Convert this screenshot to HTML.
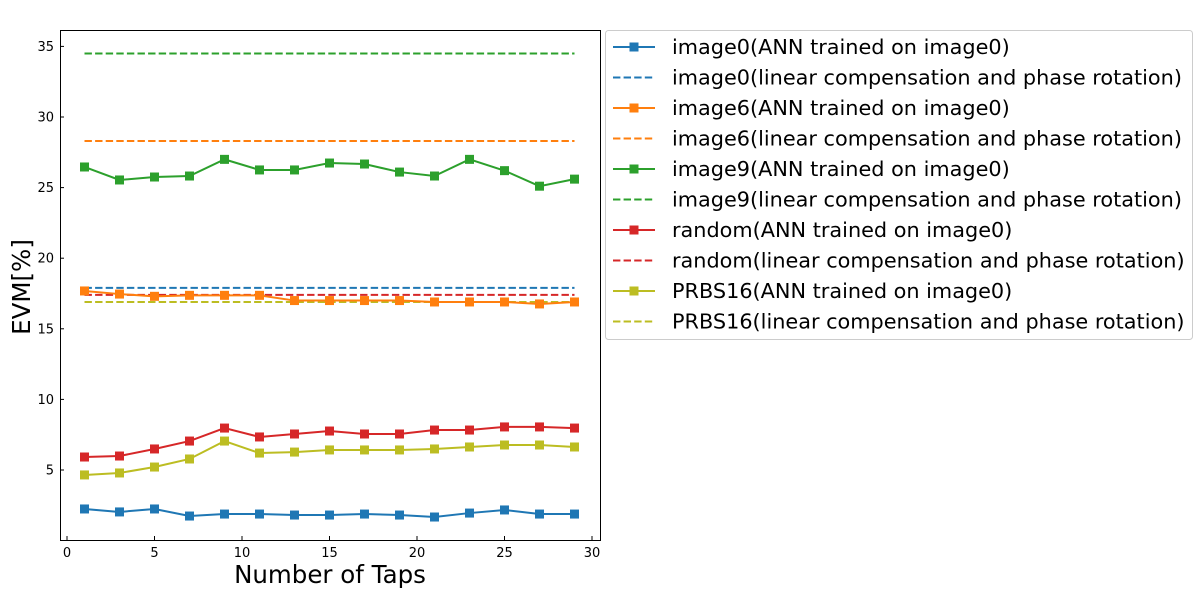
<!DOCTYPE html>
<html><head><meta charset="utf-8"><style>body{margin:0;background:#fff}svg{font-family:"DejaVu Sans","Liberation Sans",sans-serif}</style></head>
<body>
<svg id="c" width="1200" height="600"></svg>
<script>
const taps=[1,3,5,7,9,11,13,15,17,19,21,23,25,27,29];
const image0Ann=[2.24,2.03,2.24,1.74,1.88,1.88,1.81,1.81,1.88,1.81,1.67,1.95,2.17,1.88,1.88];
const image6Ann=[17.68,17.46,17.3,17.37,17.37,17.37,17.0,17.0,17.0,17.0,16.9,16.9,16.9,16.76,16.9];
const image9Ann=[26.46,25.54,25.75,25.82,27.0,26.25,26.25,26.74,26.67,26.1,25.82,27.0,26.2,25.1,25.6];
const randomAnn=[5.92,5.99,6.49,7.05,7.97,7.34,7.55,7.76,7.55,7.55,7.83,7.83,8.05,8.05,7.97];
const prbsAnn=[4.65,4.79,5.21,5.78,7.05,6.2,6.27,6.42,6.42,6.42,6.49,6.63,6.77,6.77,6.63];
const linearVals=[17.9,28.3,34.5,17.4,16.9];
const names=["image0","image6","image9","random","PRBS16"];
const colors=["#1f77b4","#ff7f0e","#2ca02c","#d62728","#bcbd22"];
const xTicks=[0,5,10,15,20,25,30];
const yTicks=[5,10,15,20,25,30,35];
const annSeries=[image0Ann,image6Ann,image9Ann,randomAnn,prbsAnn];
const NS="http://www.w3.org/2000/svg";
const svg=document.getElementById('c');
const X=v=>67+v*17.5, Y=v=>470-(v-5)*14.12;
function mk(t,a,p){const e=document.createElementNS(NS,t);for(const k in a)e.setAttribute(k,a[k]);(p||svg).appendChild(e);return e;}
const frame=mk('rect',{x:60.5,y:30.5,width:540,height:510,fill:'none',stroke:'#000','stroke-width':1});


xTicks.forEach(t=>{const g=mk('g',{});


mk('line',{x1:X(t),x2:X(t),y1:540,y2:536,stroke:'#000'},g);
const tx=mk('text',{x:X(t),y:557,'font-size':13,'text-anchor':'middle'},g);tx.textContent=t;});
yTicks.forEach(t=>{const g=mk('g',{});


mk('line',{x1:60,x2:64,y1:Y(t),y2:Y(t),stroke:'#000'},g);
const tx=mk('text',{x:54,y:Y(t)+4.5,'font-size':13,'text-anchor':'end'},g);tx.textContent=t;});
const xl=mk('text',{x:330,y:583,'font-size':24.5,'text-anchor':'middle'});xl.textContent='Number of Taps';


const yl=mk('text',{x:30,y:287,'font-size':24.5,'text-anchor':'middle',transform:'rotate(-90 30 287)'});yl.textContent='EVM[%]';


names.forEach((n,i)=>{
const d=mk('line',{x1:X(taps[0]),x2:X(taps[taps.length-1]),y1:Y(linearVals[i]),y2:Y(linearVals[i]),stroke:colors[i],'stroke-width':2,'stroke-dasharray':'7.4,3.2'});


});
names.forEach((n,i)=>{
const g=mk('g',{});


mk('polyline',{points:taps.map((t,j)=>X(t)+','+Y(annSeries[i][j])).join(' '),fill:'none',stroke:colors[i],'stroke-width':2},g);
taps.forEach((t,j)=>{const r=mk('rect',{x:X(t)-4.5,y:Y(annSeries[i][j])-4.5,width:9,height:9,fill:colors[i]},g);

});
});
const lg=mk('g',{});


mk('rect',{x:605.5,y:30.5,width:587,height:309,rx:3,fill:'#fff',stroke:'#ccc'},lg);
names.forEach((n,i)=>{
[0,1].forEach(k=>{const y=47+(i*2+k)*30.5;
const e=mk('g',{},lg);


mk('line',{x1:613,x2:655,y1:y,y2:y,stroke:colors[i],'stroke-width':2,'stroke-dasharray':k?'7.4,3.2':''},e);
if(!k)mk('rect',{x:629.5,y:y-4.5,width:9,height:9,fill:colors[i]},e);
const t=mk('text',{x:672,y:y+7,'font-size':20.8},e);
t.textContent=n+(k?'(linear compensation and phase rotation)':'(ANN trained on image0)');});
});
</script>
</body></html>
